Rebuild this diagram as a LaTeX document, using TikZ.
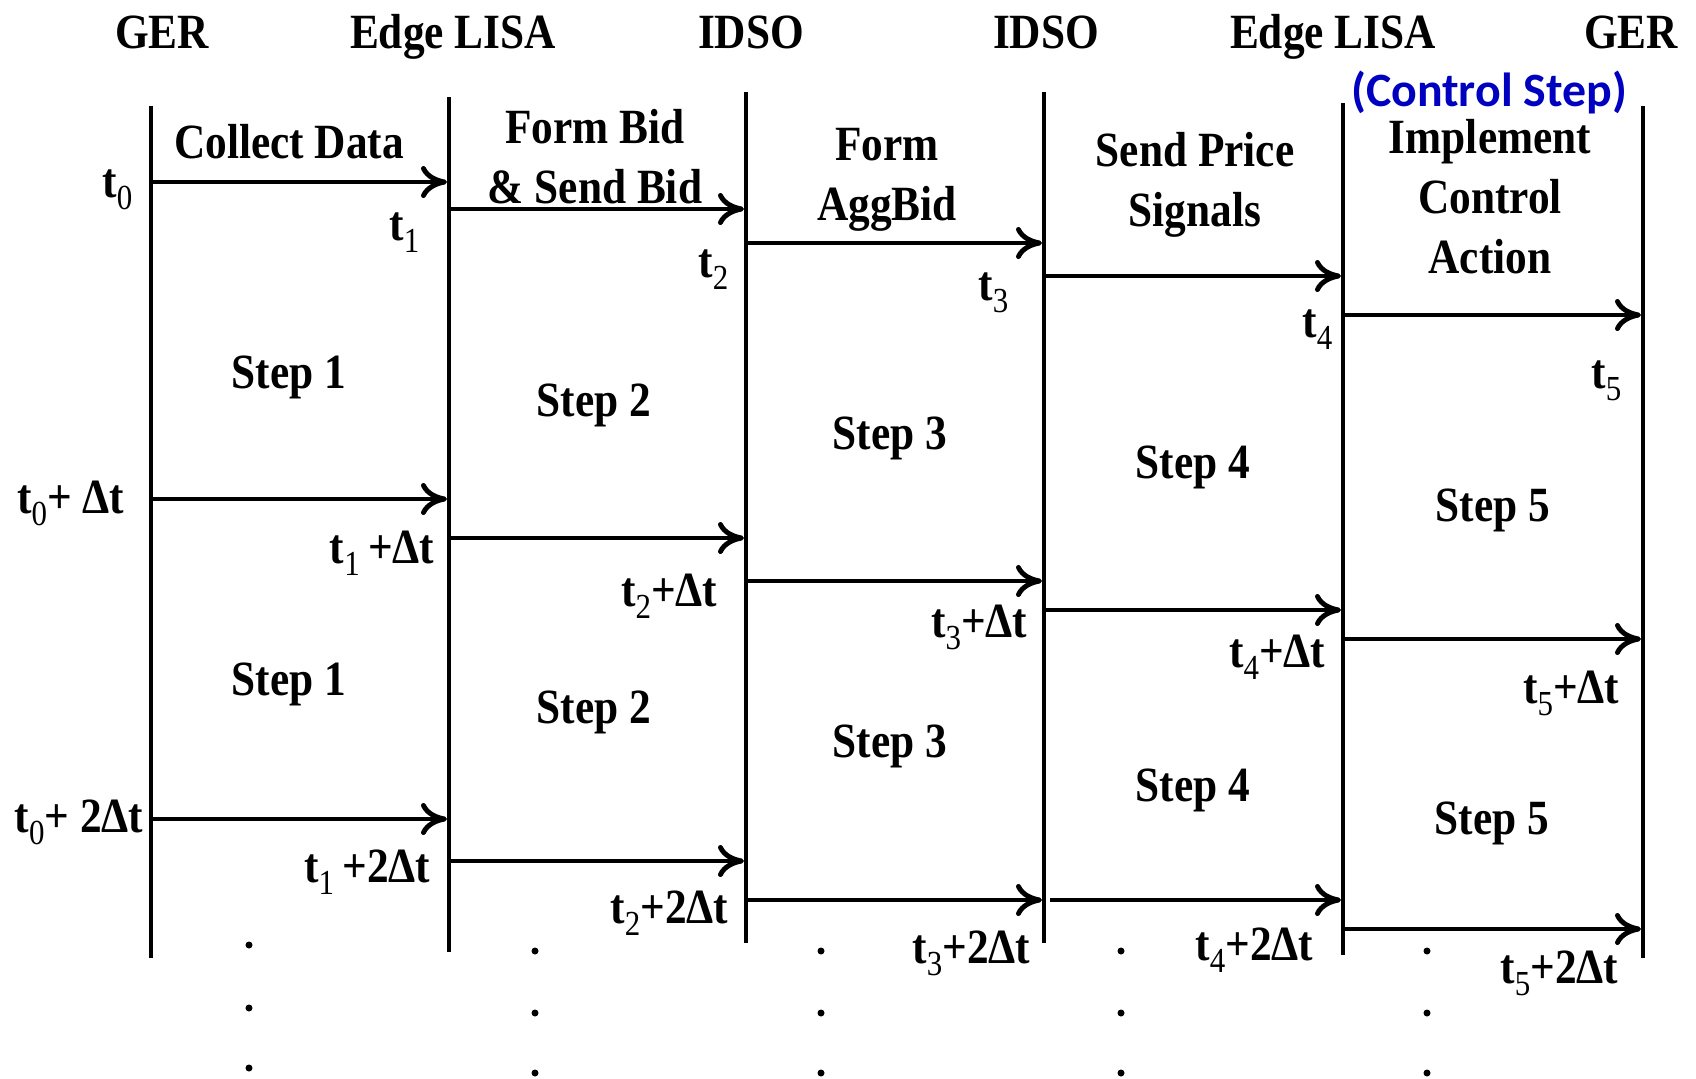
\documentclass[tikz,border=0pt]{standalone}
\usepackage{fontspec}
\setmainfont[FakeStretch=0.88]{Liberation Serif}
\newfontfamily\ctrlfont{Carlito}
\usetikzlibrary{arrows.meta}
\definecolor{CtrlBlue}{HTML}{0000C0}
\newcommand{\tsb}[1]{t\raisebox{-3.5pt}{\fontsize{10}{10}\selectfont\mdseries #1}}
\tikzset{
  lifeline/.style={line width=1.1pt},
  arr/.style={-{Computer Modern Rightarrow[length=2.6mm,width=3.2mm]}, line width=1.4pt},
  head/.style={font=\fontsize{14}{17}\selectfont\bfseries, inner sep=0pt, anchor=base},
  task/.style={font=\fontsize{14}{17}\selectfont\bfseries, inner sep=0pt, align=center, anchor=north},
  stamp/.style={font=\fontsize{14}{17}\selectfont\bfseries, inner sep=0pt, anchor=base east},
  dot/.style={fill=black}
}

\begin{document}
\begin{tikzpicture}[x=0.01cm, y=-0.01cm]
\useasboundingbox (0,0) rectangle (1696,1078);
\fill[white] (0,0) rectangle (1696,1078);
% lifelines
\coordinate (l0t) at (151,106); \coordinate (l0b) at (151,958);
\coordinate (l1t) at (449,97);  \coordinate (l1b) at (449,952);
\coordinate (l2t) at (746,92);  \coordinate (l2b) at (746,943);
\coordinate (l3t) at (1044,92); \coordinate (l3b) at (1044,943);
\coordinate (l4t) at (1343,103); \coordinate (l4b) at (1343,955);
\coordinate (l5t) at (1643,106); \coordinate (l5b) at (1643,958);
\draw[lifeline] (l0t)--(l0b);
\draw[lifeline] (l1t)--(l1b);
\draw[lifeline] (l2t)--(l2b);
\draw[lifeline] (l3t)--(l3b);
\draw[lifeline] (l4t)--(l4b);
\draw[lifeline] (l5t)--(l5b);
% headers
\node[head] (ger1) at (162,48) {GER};
\node[head] (lisa1) at (453,48) {Edge LISA};
\node[head] (idso1) at (751,48) {IDSO};
\node[head] (idso2) at (1046,48) {IDSO};
\node[head] (lisa2) at (1333,48) {Edge LISA};
\node[head] (ger2) at (1631,48) {GER};
\node[head, font=\ctrlfont\fontsize{13.6}{16}\selectfont\bfseries, text=CtrlBlue] (ctrl) at (1489,106) {(Control Step)};
% tasks
\node[head] (collect) at (289,158) {Collect Data};
\node[task] (formbid) at (595,109) {Form Bid\\\& Send Bid};
\node[task] (formagg) at (887,128) {Form\\AggBid};
\node[task] (sendprice) at (1195,132) {Send Price\\Signals};
\node[task] (implement) at (1490,119) {Implement\\Control\\Action};
% steps
\node[head] (step1a) at (289,388) {Step 1};
\node[head] (step1b) at (289,695) {Step 1};
\node[head] (step2a) at (594,416) {Step 2};
\node[head] (step2b) at (594,723) {Step 2};
\node[head] (step3a) at (890,449) {Step 3};
\node[head] (step3b) at (890,757) {Step 3};
\node[head] (step4a) at (1193,478) {Step 4};
\node[head] (step4b) at (1193,801) {Step 4};
\node[head] (step5a) at (1493,521) {Step 5};
\node[head] (step5b) at (1492,834) {Step 5};
% first round
\coordinate (s01) at (151,182); \coordinate (e01) at (447,182); \draw[arr] (s01)--(e01);
\coordinate (s11) at (449,209); \coordinate (e11) at (744,209); \draw[arr] (s11)--(e11);
\coordinate (s21) at (746,243); \coordinate (e21) at (1042,243); \draw[arr] (s21)--(e21);
\coordinate (s31) at (1044,276); \coordinate (e31) at (1341,276); \draw[arr] (s31)--(e31);
\coordinate (s41) at (1343,315); \coordinate (e41) at (1641,315); \draw[arr] (s41)--(e41);
% second round
\coordinate (s02) at (151,499); \coordinate (e02) at (447,499); \draw[arr] (s02)--(e02);
\coordinate (s12) at (449,538); \coordinate (e12) at (744,538); \draw[arr] (s12)--(e12);
\coordinate (s22) at (746,581); \coordinate (e22) at (1042,581); \draw[arr] (s22)--(e22);
\coordinate (s32) at (1044,610); \coordinate (e32) at (1341,610); \draw[arr] (s32)--(e32);
\coordinate (s42) at (1343,639); \coordinate (e42) at (1641,639); \draw[arr] (s42)--(e42);
% third round
\coordinate (s03) at (151,819); \coordinate (e03) at (447,819); \draw[arr] (s03)--(e03);
\coordinate (s13) at (449,861); \coordinate (e13) at (744,861); \draw[arr] (s13)--(e13);
\coordinate (s23) at (746,900); \coordinate (e23) at (1042,900); \draw[arr] (s23)--(e23);
\coordinate (s33) at (1050,900); \coordinate (e33) at (1341,900); \draw[arr] (s33)--(e33);
\coordinate (s43) at (1343,929); \coordinate (e43) at (1641,929); \draw[arr] (s43)--(e43);
% time stamps
\node[stamp] (t0) at (133,197) {\tsb{0}};
\node[stamp] (t1) at (420,240) {\tsb{1}};
\node[stamp] (t2) at (729,277) {\tsb{2}};
\node[stamp] (t3) at (1009,300) {\tsb{3}};
\node[stamp] (t4) at (1333,337) {\tsb{4}};
\node[stamp] (t5) at (1622,388) {\tsb{5}};
\node[stamp] (t0d) at (125,513) {\tsb{0}+ Δt};
\node[stamp] (t1d) at (435,563) {\tsb{1}\,+Δt};
\node[stamp] (t2d) at (718,606) {\tsb{2}+Δt};
\node[stamp] (t3d) at (1028,637) {\tsb{3}+Δt};
\node[stamp] (t4d) at (1326,667) {\tsb{4}+Δt};
\node[stamp] (t5d) at (1620,703) {\tsb{5}+Δt};
\node[stamp] (t0dd) at (144,832) {\tsb{0}+ 2Δt};
\node[stamp] (t1dd) at (431,882) {\tsb{1}\,+2Δt};
\node[stamp] (t2dd) at (729,923) {\tsb{2}+2Δt};
\node[stamp] (t3dd) at (1031,963) {\tsb{3}+2Δt};
\node[stamp] (t4dd) at (1314,960) {\tsb{4}+2Δt};
\node[stamp] (t5dd) at (1619,983) {\tsb{5}+2Δt};
% continuation dots
\fill[dot] (249,945) circle (0.35mm) (249,1008) circle (0.35mm) (249,1068) circle (0.35mm);
\fill[dot] (535,951) circle (0.35mm) (535,1013) circle (0.35mm) (535,1073) circle (0.35mm);
\fill[dot] (821,951) circle (0.35mm) (821,1013) circle (0.35mm) (821,1073) circle (0.35mm);
\fill[dot] (1121,951) circle (0.35mm) (1121,1013) circle (0.35mm) (1121,1073) circle (0.35mm);
\fill[dot] (1427,951) circle (0.35mm) (1427,1013) circle (0.35mm) (1427,1073) circle (0.35mm);
\end{tikzpicture}
\end{document}
